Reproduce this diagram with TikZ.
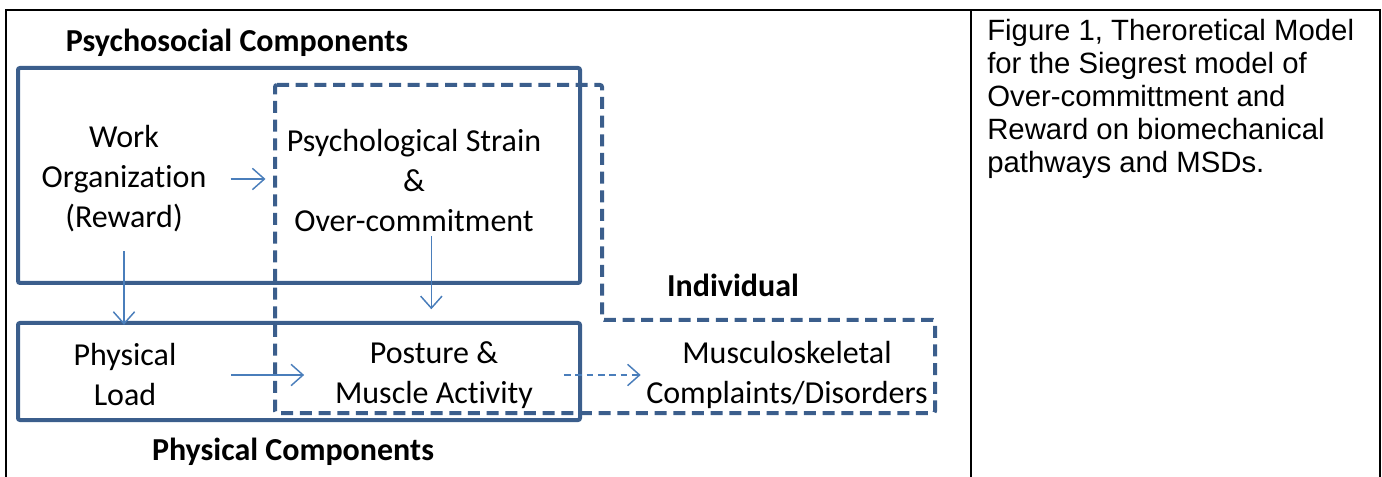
\documentclass[tikz,border=0pt]{standalone}
\usepackage{fontspec}
\setmainfont{Carlito}[Ligatures={NoCommon}]
\newfontfamily\arialf{Liberation Sans}
\usetikzlibrary{arrows.meta}
\definecolor{boxblue}{HTML}{3B5E8C}
\definecolor{arrblue}{HTML}{4A7EBB}
\tikzset{
  txt/.style={align=center, font=\fontsize{24}{30}\selectfont, inner sep=3pt},
  btxt/.style={font=\fontsize{24}{30}\selectfont\bfseries, inner sep=3pt},
  frame/.style={draw=boxblue, line width=3pt, rounded corners=1.5pt},
  dframe/.style={draw=boxblue, line width=3pt, dash pattern=on 9pt off 5pt, rounded corners=1.5pt},
  arr/.style={draw=arrblue, line width=1.1pt, -{Straight Barb[length=9pt, width=16pt, line width=1.1pt]}},
  darr/.style={arr, dash pattern=on 5pt off 3.5pt},
  tline/.style={draw=black, line width=1.6pt}
}
\begin{document}
\begin{tikzpicture}[x=0.75pt, y=-0.75pt]
\useasboundingbox (0,0) rectangle (1382,477);
% table
\draw[tline] (6,477) -- (6,10) -- (1380,10) -- (1380,477);
\draw[tline] (971,10) -- (971,477);
% frames
\draw[frame] (18,68) rectangle (580,283);
\draw[frame] (18,323) rectangle (580,420);
\draw[dframe] (275,85) -- (602,85) -- (602,320) -- (935,320) -- (935,413) -- (275,413) -- cycle;
% labels
\node[btxt] (psc) at (237,43) {Psychosocial Components};
\node[btxt] (phc) at (293,452) {Physical Components};
\node[btxt] (ind) at (733,285) {Individual};
% nodes
\node[txt] (wo) at (124,179) {Work\\Organization\\(Reward)};
\node[txt] (ps) at (414,181) {Psychological Strain\\\&\\Over-commitment};
\node[txt] (pl) at (125,375) {Physical\\Load};
\node[txt] (pm) at (434,375) {Posture \&\\Muscle Activity};
\node[txt] (ms) at (787,375) {Musculoskeletal\\Complaints/Disorders};
% connectors
\draw[arr, shorten <=15pt, shorten >=12.75pt] (wo.east) -- (wo.east -| ps.west);
\draw[arr, shorten <=11pt, shorten >=11pt] (wo.south) -- (wo.south |- pl.north);
\draw[arr, shorten <=0pt, shorten >=21pt] ([xshift=-2pt]ps.south -| pm.north) -- ([xshift=-2pt]pm.north);
\draw[arr, shorten <=38pt, shorten >=20pt] (pl.east) -- (pl.east -| pm.west);
\draw[darr, shorten <=20pt, shorten >=1pt] (pm.east) -- (pm.east -| ms.west);
% caption
\node[anchor=north west, inner sep=0pt, align=left, font=\arialf\fontsize{22}{24.75}\selectfont] (cap) at (987,19)
{Figure 1, Theroretical Model\\for the Siegrest model of\\Over-committment and\\Reward on biomechanical\\pathways and MSDs.};
\end{tikzpicture}
\end{document}
